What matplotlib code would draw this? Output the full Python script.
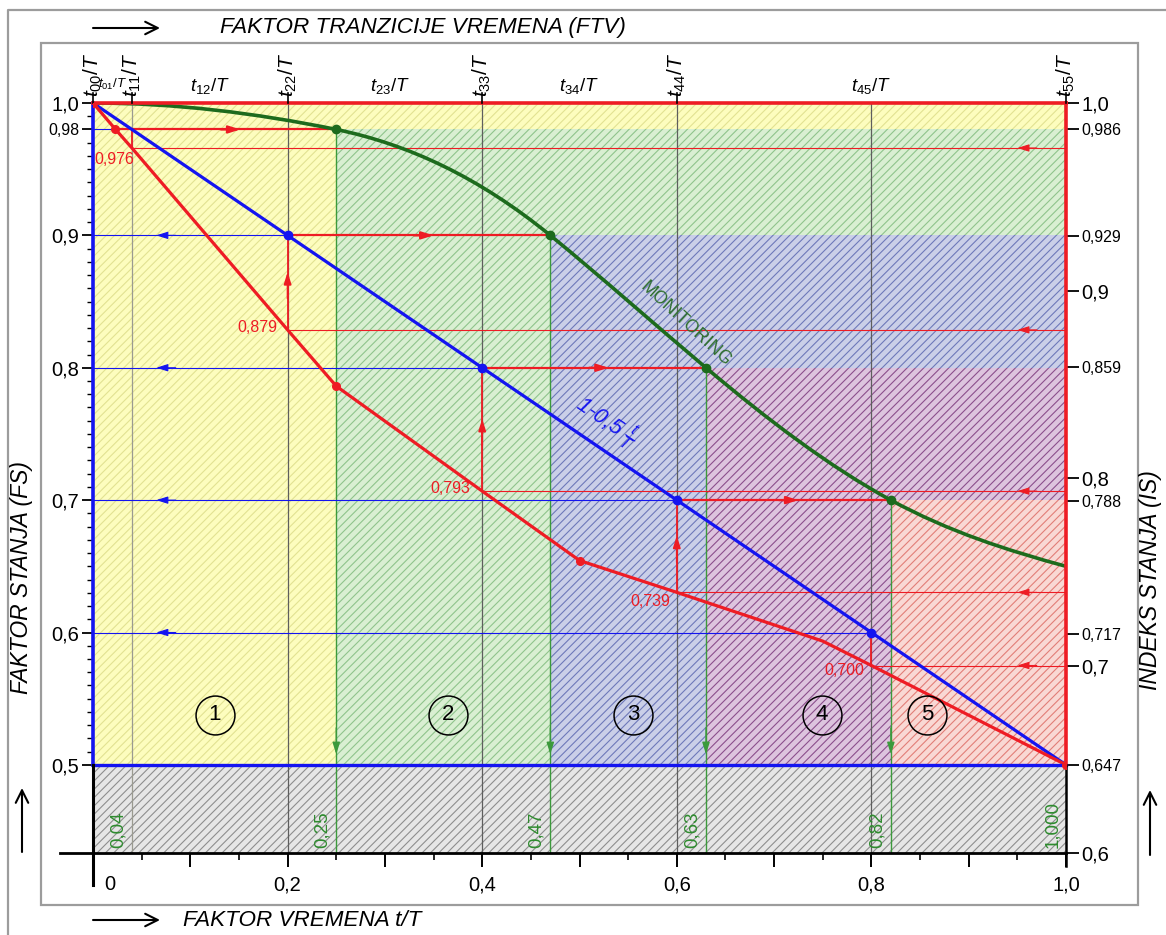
import numpy as np
import matplotlib
matplotlib.use("Agg")
import matplotlib.pyplot as plt
from matplotlib.patches import Polygon, Rectangle, PathPatch
from matplotlib.path import Path
from matplotlib.lines import Line2D
from matplotlib.transforms import ScaledTranslation

plt.rcParams['font.family'] = ['Liberation Sans', 'DejaVu Sans']
plt.rcParams['mathtext.fontset'] = 'custom'
plt.rcParams['mathtext.rm'] = 'Liberation Sans'
plt.rcParams['mathtext.it'] = 'Liberation Sans:italic'
plt.rcParams['mathtext.bf'] = 'Liberation Sans:bold'
plt.rcParams['hatch.linewidth'] = 0.8

# ---------------- data ----------------
# condition index (IS) is linear in condition factor (FS): FS 0.5 <-> IS 0.647
IS_AT_HALF = 0.647
K = (1.0 - IS_AT_HALF) / 0.5


def fs2is(fs):
    return 1.0 - K * (1.0 - np.asarray(fs, dtype=float))


def is2fs(v):
    return 1.0 - (1.0 - np.asarray(v, dtype=float)) / K


# stage times t/T and the condition factor reached on the straight line 1-0.5 t/T
t_stage = [0.04, 0.2, 0.4, 0.6, 0.8]
fs_stage = [0.98, 0.9, 0.8, 0.7, 0.6]
# condition index (red curve) at the stage times
is_stage = [0.976, 0.879, 0.793, 0.739, 0.700]
is_stage_lbl = ['0,976', '0,879', '0,793', '0,739', '0,700']

# time transition factor (FTV) where monitoring reaches each level
ftv = [0.25, 0.47, 0.63, 0.82]
ftv_lbl = ['0,04', '0,25', '0,47', '0,63', '0,82', '1,000']
ftv_lbl_x = [0.04, 0.25, 0.47, 0.63, 0.82, 1.0]

# monitoring curve: knots and slopes dFS/d(t/T) at the knots
t_mon = [0.0, 0.25, 0.47, 0.63, 0.82, 1.0]
fs_mon = [1.0, 0.98, 0.90, 0.80, 0.70, 0.65]
slope_mon = [0.0, -0.15, -0.60, -0.62, -0.40, -0.20]

# condition index curve (red)
t_red = [0.0, 0.023, 0.04, 0.2, 0.25, 0.4, 0.5, 0.6, 0.75, 0.8, 1.0]
is_red = [1.0, 0.986, 0.976, 0.879, 0.849, 0.793, 0.756, 0.739, 0.713, 0.700, 0.647]
t_red_dots = [0.0, 0.023, 0.25, 0.5, 1.0]
is_red_dots = [1.0, 0.986, 0.849, 0.756, 0.647]

# axis ticks
left_ticks = [0.5, 0.6, 0.7, 0.8, 0.9, 0.98, 1.0]
left_lbls = ['0,5', '0,6', '0,7', '0,8', '0,9', '0,98', '1,0']
right_ticks = [1.0, 0.986, 0.929, 0.9, 0.859, 0.8, 0.788, 0.717, 0.7, 0.647, 0.6]
right_lbls = ['1,0', '0,986', '0,929', '0,9', '0,859', '0,8', '0,788', '0,717', '0,7', '0,647', '0,6']
right_big = ['1,0', '0,9', '0,8', '0,7', '0,6']
x_ticks = [0.0, 0.1, 0.2, 0.3, 0.4, 0.5, 0.6, 0.7, 0.8, 0.9, 1.0]
x_lbls = ['0', '', '0,2', '', '0,4', '', '0,6', '', '0,8', '', '1,0']

top_rot_x = [0.0, 0.04, 0.2, 0.4, 0.6, 1.0]
top_rot_lbl = [r'$t_{00}/T$', r'$t_{11}/T$', r'$t_{22}/T$', r'$t_{33}/T$', r'$t_{44}/T$', r'$t_{55}/T$']
top_hor_x = [0.02, 0.12, 0.305, 0.5, 0.8]
top_hor_lbl = [r'$t_{01}/T$', r'$t_{12}/T$', r'$t_{23}/T$', r'$t_{34}/T$', r'$t_{45}/T$']

zone_names = ['1', '2', '3', '4', '5']
zone_x = [0.125, 0.365, 0.555, 0.749, 0.857]
zone_y = 0.538

# zone colours: (face, hatch)
zone_cols = [('#fdfdbe', '#e2e292'), ('#d9efd2', '#8fc48c'), ('#cacfe8', '#6e79ba'),
             ('#ddc4de', '#8c4f8c'), ('#f9d8d4', '#e27e78')]
gray_cols = ('#e6e6e6', '#8e8e8e')

RED = '#ee1c24'
BLUE = '#1414f0'
DGREEN = '#1d6b1d'
LGREEN = '#3c9a3c'

W, H = 1166, 935
FS_MIN = float(is2fs(0.6))

fig = plt.figure(figsize=(W / 100, H / 100), dpi=100)
ax = fig.add_axes([93 / W, (H - 853) / H, 973 / W, 750 / H])
ax.set_xlim(0, 1)
ax.set_ylim(FS_MIN, 1.0)
ax.patch.set_visible(False)
for sp in ax.spines.values():
    sp.set_visible(False)


def fpt(x, y):
    return (x / W, 1 - y / H)


# frames
fig.add_artist(Rectangle(fpt(41, 905), (1138 - 41) / W, (905 - 43) / H, transform=fig.transFigure,
                         fill=False, ec='#9c9c9c', lw=1.6))
fig.add_artist(Line2D([8 / W, 8 / W, 1.0], [0.0, 1 - 10 / H, 1 - 10 / H], transform=fig.transFigure,
                      color='#9c9c9c', lw=1.6))

# ---------------- zones ----------------
levels = [1.0] + fs_stage[:4]          # 1.0, 0.98, 0.9, 0.8, 0.7
bounds = [0.0] + ftv + [1.0]            # 0, 0.25, 0.47, 0.63, 0.82, 1
for i in range(5):
    x0, x1 = bounds[i], bounds[i + 1]
    top = levels[i]
    if i < 4:
        nxt = levels[i + 1]
        pts = [(x0, 0.5), (x1, 0.5), (x1, nxt), (1.0, nxt), (1.0, top), (x0, top)]
    else:
        pts = [(x0, 0.5), (x1, 0.5), (x1, top), (x0, top)]
    fc, hc = zone_cols[i]
    ax.add_patch(Polygon(pts, closed=True, facecolor=fc, edgecolor='none', lw=0, zorder=0))
    ax.add_patch(Polygon(pts, closed=True, facecolor='none', edgecolor=hc, lw=0, hatch='////', zorder=0.1))
ax.add_patch(Polygon([(0, FS_MIN), (1, FS_MIN), (1, 0.5), (0, 0.5)], closed=True,
                     facecolor=gray_cols[0], edgecolor='none', lw=0, zorder=0))
ax.add_patch(Polygon([(0, FS_MIN), (1, FS_MIN), (1, 0.5), (0, 0.5)], closed=True,
                     facecolor='none', edgecolor=gray_cols[1], lw=0, hatch='////', zorder=0.1))

# vertical reference lines at the stage times
for x in t_stage:
    ax.plot([x, x], [FS_MIN, 1.0], color='#9a9a90' if x < 0.1 else '#5e5e5e', lw=0.9, zorder=1)

# green verticals from monitoring points down to the time axis
for x, y in zip(ftv, fs_stage[:4]):
    ax.plot([x, x], [FS_MIN, y], color=LGREEN, lw=1.0, zorder=1.2)


def head(x, y, dx, dy, color, lw=1.0):
    ax.annotate('', xy=(x, y), xytext=(x - dx, y - dy),
                arrowprops=dict(arrowstyle='-|>,head_length=0.7,head_width=0.22', color=color,
                                lw=lw, shrinkA=0, shrinkB=0), zorder=4)


for x in ftv:
    head(x, 0.508, 0, -0.02, LGREEN)

# thin blue lines from the straight line back to the FS axis
ax.plot([0, t_red[1]], [0.98, 0.98], color=BLUE, lw=0.8, zorder=2)
for t, f in zip(t_stage[1:], fs_stage[1:]):
    ax.plot([0, t], [f, f], color=BLUE, lw=0.8, zorder=2)
    head(0.065, f, -0.02, 0, BLUE, lw=0.8)

# thin red lines from the condition index curve to the IS axis
for t, v in zip(t_stage, is_stage):
    f = float(is2fs(v))
    ax.plot([t, 1.0], [f, f], color=RED, lw=0.8, zorder=2)
    head(0.95, f, -0.02, 0, RED, lw=0.8)

# red verticals: index value up to the straight-line value
for t, v, f in zip(t_stage, is_stage, fs_stage):
    f0 = float(is2fs(v))
    ax.plot([t, t], [f0, f], color=RED, lw=1.3, zorder=2.5)
    if 0.1 < t < 0.7:
        head(t, (f0 + f) / 2 + 0.008, 0, 0.02, RED, lw=1.3)

# thick red horizontals from the straight line to the monitoring curve
x_start = [t_red[1]] + t_stage[1:4]
for xs, xe, f in zip(x_start, ftv, fs_stage[:4]):
    ax.plot([xs, xe], [f, f], color=RED, lw=1.6, zorder=2.5)
    head((xs + xe) / 2 + 0.015, f, 0.02, 0, RED, lw=1.6)

# main curves
ax.plot([0, 1], [1.0, 0.5], color=BLUE, lw=2.3, zorder=3)

# monitoring curve as cubic Bezier segments through the knots
verts = [(t_mon[0], fs_mon[0])]
codes = [Path.MOVETO]
for i in range(len(t_mon) - 1):
    h = t_mon[i + 1] - t_mon[i]
    verts += [(t_mon[i] + h / 3, fs_mon[i] + slope_mon[i] * h / 3),
              (t_mon[i + 1] - h / 3, fs_mon[i + 1] - slope_mon[i + 1] * h / 3),
              (t_mon[i + 1], fs_mon[i + 1])]
    codes += [Path.CURVE4] * 3
ax.add_patch(PathPatch(Path(verts, codes), fill=False, ec=DGREEN, lw=2.6, zorder=3))

ax.plot(t_red, is2fs(is_red), color=RED, lw=2.3, zorder=3, solid_joinstyle='round')

ax.plot(t_stage[1:], fs_stage[1:], 'o', color=BLUE, ms=6, zorder=5)
ax.plot(ftv, fs_stage[:4], 'o', color=DGREEN, ms=6, zorder=5)
ax.plot(t_red_dots, is2fs(is_red_dots), 'o', color=RED, ms=5.5, zorder=5)

# axis lines
ax.plot([0, 1], [0.5, 0.5], color=BLUE, lw=2.4, zorder=3.5, clip_on=False)
ax.plot([0, 0], [0.5, 1.0], color=BLUE, lw=2.6, zorder=3.5, clip_on=False)
ax.plot([1, 1], [0.5, 1.0], color=RED, lw=2.6, zorder=3.5, clip_on=False)
ax.plot([0, 1], [1.0, 1.0], color=RED, lw=2.6, zorder=3.5, clip_on=False)
ax.plot([-0.034, 1.0], [FS_MIN, FS_MIN], color='black', lw=2.0, zorder=3.5, clip_on=False)
ax.plot([0, 0], [0.5, FS_MIN - 0.024], color='black', lw=2.2, zorder=3.5, clip_on=False)
ax.plot([1, 1], [0.5, FS_MIN - 0.010], color='black', lw=1.8, zorder=3.5, clip_on=False)

# left ticks
ax.set_yticks(left_ticks, labels=left_lbls)
ax.set_yticks(np.arange(0.5, 1.0001, 0.01), minor=True)
ax.tick_params(axis='y', which='major', direction='out', length=8, width=1.3, labelsize=14.5, pad=2)
ax.tick_params(axis='y', which='minor', direction='out', length=4, width=1.0)
for lab in ax.get_yticklabels():
    if lab.get_text() == '0,98':
        lab.set_fontsize(11.5)

# bottom ticks
ax.set_xticks(x_ticks, labels=x_lbls)
ax.set_xticks(np.arange(0.05, 1.0, 0.1), minor=True)
ax.tick_params(axis='x', which='major', direction='out', length=10, width=1.4, labelsize=14.5, pad=6)
ax.tick_params(axis='x', which='minor', direction='out', length=5, width=1.2)
first = ax.get_xticklabels()[0]
first.set_transform(first.get_transform() + ScaledTranslation(17 / 100, 0, fig.dpi_scale_trans))

# right axis in condition index units
sec = ax.secondary_yaxis('right', functions=(fs2is, is2fs))
for sp in sec.spines.values():
    sp.set_visible(False)
sec.set_yticks(right_ticks, labels=right_lbls)
sec.tick_params(axis='y', direction='out', length=9, width=1.3, labelsize=11.5, pad=2)
sec.minorticks_off()
for lab in sec.get_yticklabels():
    if lab.get_text() in right_big:
        lab.set_fontsize(14.5)

# top tick marks and time labels
for x, s in zip(top_rot_x, top_rot_lbl):
    ax.plot([x, x], [1.0, 1.0 + 0.0078], color='black', lw=1.2, clip_on=False, zorder=4)
    ax.annotate(s, xy=(x, 1.0), xytext=(0, 4), textcoords='offset points', rotation=90,
                ha='center', va='bottom', fontsize=15, annotation_clip=False)
for x, s in zip(top_hor_x, top_hor_lbl):
    ax.annotate(s, xy=(x, 1.0), xytext=(0, 8 if x < 0.05 else 5), textcoords='offset points',
                ha='center', va='bottom', fontsize=9.5 if x < 0.05 else 13.5, annotation_clip=False)

# red value labels
lbl_pos = [(0.022, 0.957, 'center'), (0.19, 0.8306, 'right'), (0.388, 0.709, 'right'),
           (0.593, 0.6235, 'right'), (0.793, 0.571, 'right')]
for (x, y, ha), s in zip(lbl_pos, is_stage_lbl):
    ax.text(x, y, s, color=RED, fontsize=11.5, ha=ha, va='center', zorder=6)

# green FTV labels along the time axis
for x, s in zip(ftv_lbl_x, ftv_lbl):
    ax.text(x - 0.014, FS_MIN + 0.004, s, color='#2e8b2e', fontsize=13.5, rotation=90,
            ha='center', va='bottom', zorder=6)

# zone numbers
ax.plot(zone_x, [zone_y] * 5, 'o', mfc='none', mec='black', mew=1.1, ms=28, zorder=6)
for x, s in zip(zone_x, zone_names):
    ax.text(x, zone_y, s, fontsize=16, ha='center', va='center', zorder=6)

# curve labels
ax.text(0.609, 0.833, 'MONITORING', color='#2f6f2f', fontsize=13, rotation=-42.5,
        ha='center', va='center', rotation_mode='anchor', zorder=6)
ax.text(0.528, 0.760, '1-0,5 $\\frac{t}{T}$', color=BLUE, fontsize=16, style='italic',
        rotation=-34.3, ha='center', va='center', rotation_mode='anchor', zorder=6)

# axis titles with arrows
arrow_kw = dict(arrowstyle='->,head_length=0.9,head_width=0.45', lw=1.5, color='black',
                shrinkA=0, shrinkB=0)
fig.text(220 / W, 1 - 28 / H, 'FAKTOR TRANZICIJE VREMENA (FTV)', fontsize=16.2, style='italic',
         ha='left', va='center')
ax.annotate('', xy=fpt(160, 28), xytext=fpt(93, 28), xycoords='figure fraction',
            textcoords='figure fraction', arrowprops=arrow_kw, annotation_clip=False)
fig.text(183 / W, 1 - 920 / H, 'FAKTOR VREMENA t/T', fontsize=16.2, style='italic',
         ha='left', va='center')
ax.annotate('', xy=fpt(160, 920), xytext=fpt(93, 920), xycoords='figure fraction',
            textcoords='figure fraction', arrowprops=arrow_kw, annotation_clip=False)
fig.text(22 / W, 1 - 578 / H, 'FAKTOR STANJA (FS)', fontsize=16.5, style='italic',
         rotation=90, ha='center', va='center')
ax.annotate('', xy=fpt(22, 788), xytext=fpt(22, 852), xycoords='figure fraction',
            textcoords='figure fraction', arrowprops=arrow_kw, annotation_clip=False)
fig.text(1150 / W, 1 - 580 / H, 'INDEKS STANJA (IS)', fontsize=16.5, style='italic',
         rotation=90, ha='center', va='center')
ax.annotate('', xy=fpt(1150, 790), xytext=fpt(1150, 855), xycoords='figure fraction',
            textcoords='figure fraction', arrowprops=arrow_kw, annotation_clip=False)

fig.savefig('out.png', dpi=100)
